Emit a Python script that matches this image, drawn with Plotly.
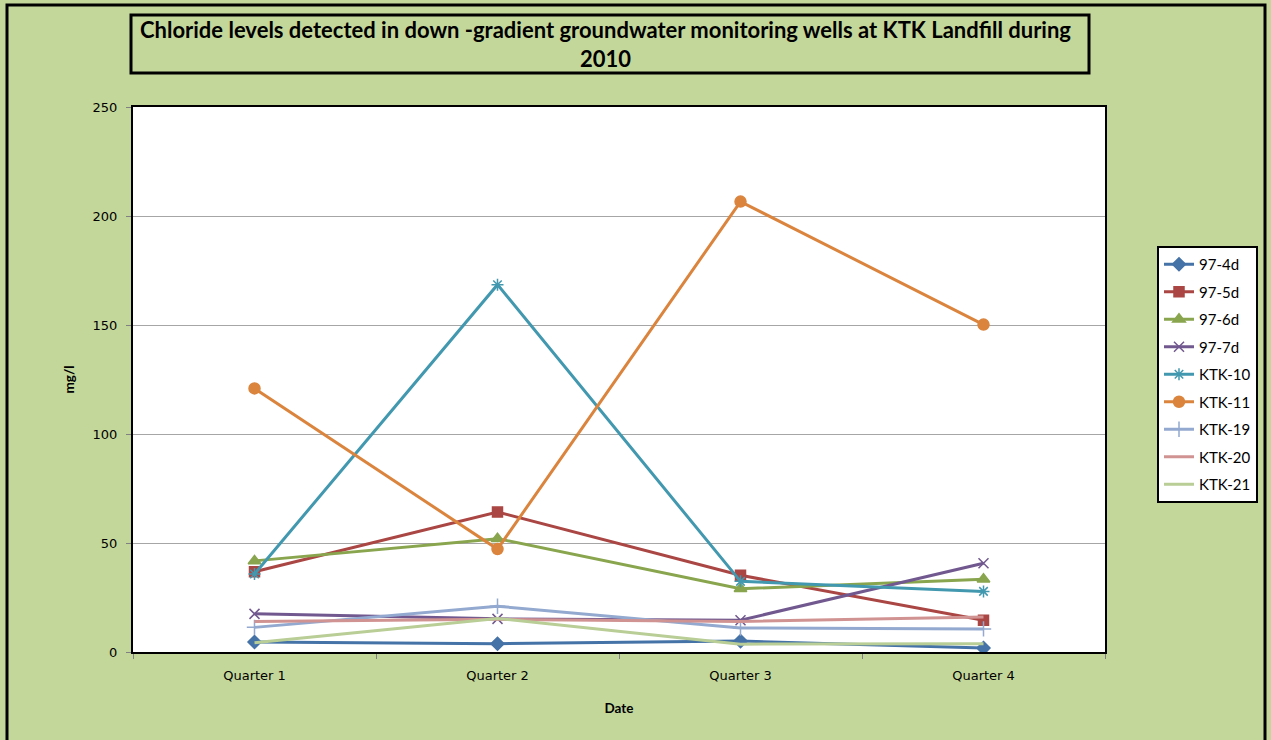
import plotly.graph_objects as go

# Sampling quarters and chloride results (mg/l) per down-gradient well
quarters = ["Quarter 1", "Quarter 2", "Quarter 3", "Quarter 4"]

w97_4d = [4.6, 3.8, 5.0, 1.8]
w97_5d = [36.8, 64.2, 35.2, 14.6]
w97_6d = [41.8, 52.0, 29.0, 33.4]
w97_7d = [17.5, 15.2, 14.6, 40.7]
ktk_10 = [35.8, 168.5, 32.4, 27.8]
ktk_11 = [120.9, 47.2, 206.6, 150.2]
ktk_19 = [11.3, 21.0, 11.0, 10.6]
ktk_20 = [14.0, 15.0, 14.0, 16.0]
ktk_21 = [4.2, 15.4, 3.6, 3.8]

series = [
    ("97-4d", w97_4d, "#4572A7", "diamond", 10),
    ("97-5d", w97_5d, "#AA4643", "square", 10),
    ("97-6d", w97_6d, "#89A54E", "triangle-up", 11),
    ("97-7d", w97_7d, "#71588F", "x-thin", 10),
    ("KTK-10", ktk_10, "#4198AF", "asterisk", 10),
    ("KTK-11", ktk_11, "#DB843D", "circle", 11),
    ("KTK-19", ktk_19, "#93A9CF", "cross-thin", 11),
    ("KTK-20", ktk_20, "#D19392", None, 0),
    ("KTK-21", ktk_21, "#B9CD96", None, 0),
]

W, H = 1271, 740
L, R, T, B = 133, 1105, 107, 652  # plot area in pixels

def px(x):
    return (x - L) / (R - L)

def py(y):
    return (B - y) / (B - T)

BG = "#C4D79B"

fig = go.Figure()
for name, vals, color, sym, size in series:
    if sym is None:
        mode = "lines"
        marker = None
    else:
        mode = "lines+markers"
        marker = dict(symbol=sym, size=size, color=color,
                      line=dict(color=color, width=1.5))
    fig.add_trace(go.Scatter(
        x=quarters, y=vals, name=name, mode=mode,
        line=dict(color=color, width=3),
        marker=marker, legendgroup=name,
    ))

fig.update_layout(
    width=W, height=H,
    margin=dict(l=L, r=W - R, t=T, b=H - B),
    paper_bgcolor=BG,
    plot_bgcolor="white",
    showlegend=True,
    legend=dict(
        x=px(1157), y=py(246), xanchor="left", yanchor="top",
        bgcolor="white", bordercolor="black", borderwidth=2,
        font=dict(family="Lato", size=15, color="black"),
        traceorder="grouped", tracegroupgap=5,
    ),
    xaxis=dict(
        type="category", tickson="boundaries",
        ticks="outside", ticklen=5, tickcolor="#808080",
        ticklabelstandoff=10,
        showline=True, linecolor="black", linewidth=2, mirror=True,
        showgrid=False, zeroline=False,
        tickfont=dict(family="DejaVu Sans", size=13, color="black"),
        title=dict(text="<b>Date</b>", standoff=22,
                   font=dict(family="Lato", size=13.5, color="black")),
        range=[-0.5, 3.5],
    ),
    yaxis=dict(
        range=[0, 250], dtick=50,
        ticks="outside", ticklen=5, tickcolor="#808080",
        ticklabelstandoff=6,
        showline=True, linecolor="black", linewidth=2, mirror=True,
        showgrid=True, gridcolor="#A6A6A6", gridwidth=1, zeroline=False,
        tickfont=dict(family="DejaVu Sans", size=13, color="black"),
        title=dict(text="<b>mg/l</b>", standoff=15,
                   font=dict(family="Lato", size=13.5, color="black")),
    ),
    shapes=[
        # outer chart frame
        dict(type="rect", xref="paper", yref="paper",
             x0=px(7), x1=px(1265), y0=py(760), y1=py(5),
             line=dict(color="black", width=3), fillcolor="rgba(0,0,0,0)",
             layer="below"),
        # title box
        dict(type="rect", xref="paper", yref="paper",
             x0=px(131), x1=px(1089), y0=py(73), y1=py(15),
             line=dict(color="black", width=3), fillcolor=BG),
    ],
    annotations=[
        dict(xref="paper", yref="paper", x=px(605), y=py(44),
             xanchor="center", yanchor="middle", showarrow=False,
             text="<b>Chloride levels detected in down -gradient groundwater "
                  "monitoring wells at KTK Landfill during<br>2010</b>",
             font=dict(family="Lato", size=22, color="black"),
             align="center"),
    ],
)

fig.write_html("out.html")
